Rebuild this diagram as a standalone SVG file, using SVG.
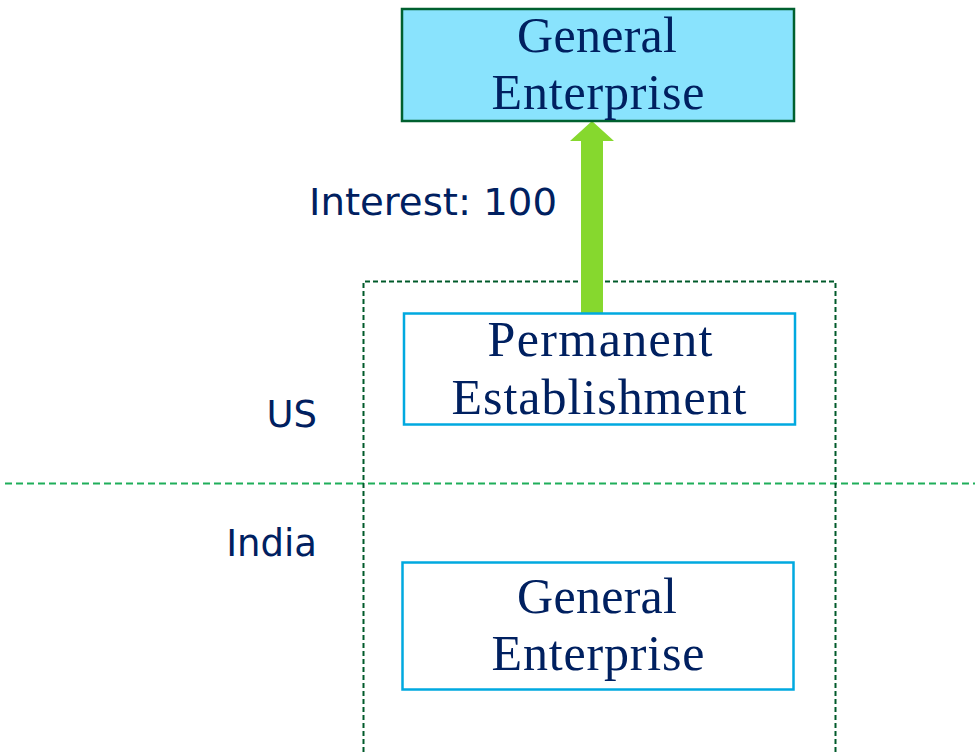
<svg xmlns="http://www.w3.org/2000/svg" width="975" height="752" viewBox="0 0 975 752">
  <style>
    .serif { font-family: "Liberation Serif", "DejaVu Serif", serif; font-size: 50px; fill: #002060; text-anchor: middle; }
    .sans { font-family: "DejaVu Sans", "Verdana", sans-serif; font-size: 37px; fill: #002060; }
    .box { fill: #ffffff; stroke: #00a9e0; stroke-width: 2.5; }
  </style>
  <rect width="975" height="752" fill="#ffffff"/>

  <!-- country border and PE boundary -->
  <g id="boundaries">
    <line x1="5" y1="483.5" x2="975" y2="483.5" stroke="#1fae5a" stroke-width="2" stroke-dasharray="7,4"/>
    <path d="M363.5 760 V281.5 H835.5 V760" fill="none" stroke="#005a2a" stroke-width="2" stroke-dasharray="5,3"/>
  </g>

  <!-- labels -->
  <g id="labels">
    <text class="sans" x="317" y="427" text-anchor="end">US</text>
    <text class="sans" x="317" y="556" text-anchor="end">India</text>
    <text class="sans" x="309" y="215" textLength="248" lengthAdjust="spacingAndGlyphs">Interest: 100</text>
  </g>

  <!-- interest flow -->
  <g id="connectors">
    <polygon points="581,313 581,141 570,141 592,121 614,141 603,141 603,313" fill="#86d82e"/>
  </g>

  <g id="ge-top">
    <rect x="402" y="9" width="392" height="112" fill="#89e3fd" stroke="#00602f" stroke-width="2.5"/>
    <text class="serif" x="597" y="52" textLength="160">General</text>
    <text class="serif" x="598" y="109" textLength="213">Enterprise</text>
  </g>

  <g id="pe">
    <rect class="box" x="404" y="313.5" width="391" height="111"/>
    <text class="serif" x="600" y="356" textLength="225">Permanent</text>
    <text class="serif" x="599" y="414" textLength="295">Establishment</text>
  </g>

  <g id="ge-india">
    <rect class="box" x="402.5" y="562.5" width="391" height="127"/>
    <text class="serif" x="597" y="613" textLength="160">General</text>
    <text class="serif" x="598" y="670" textLength="213">Enterprise</text>
  </g>
</svg>
